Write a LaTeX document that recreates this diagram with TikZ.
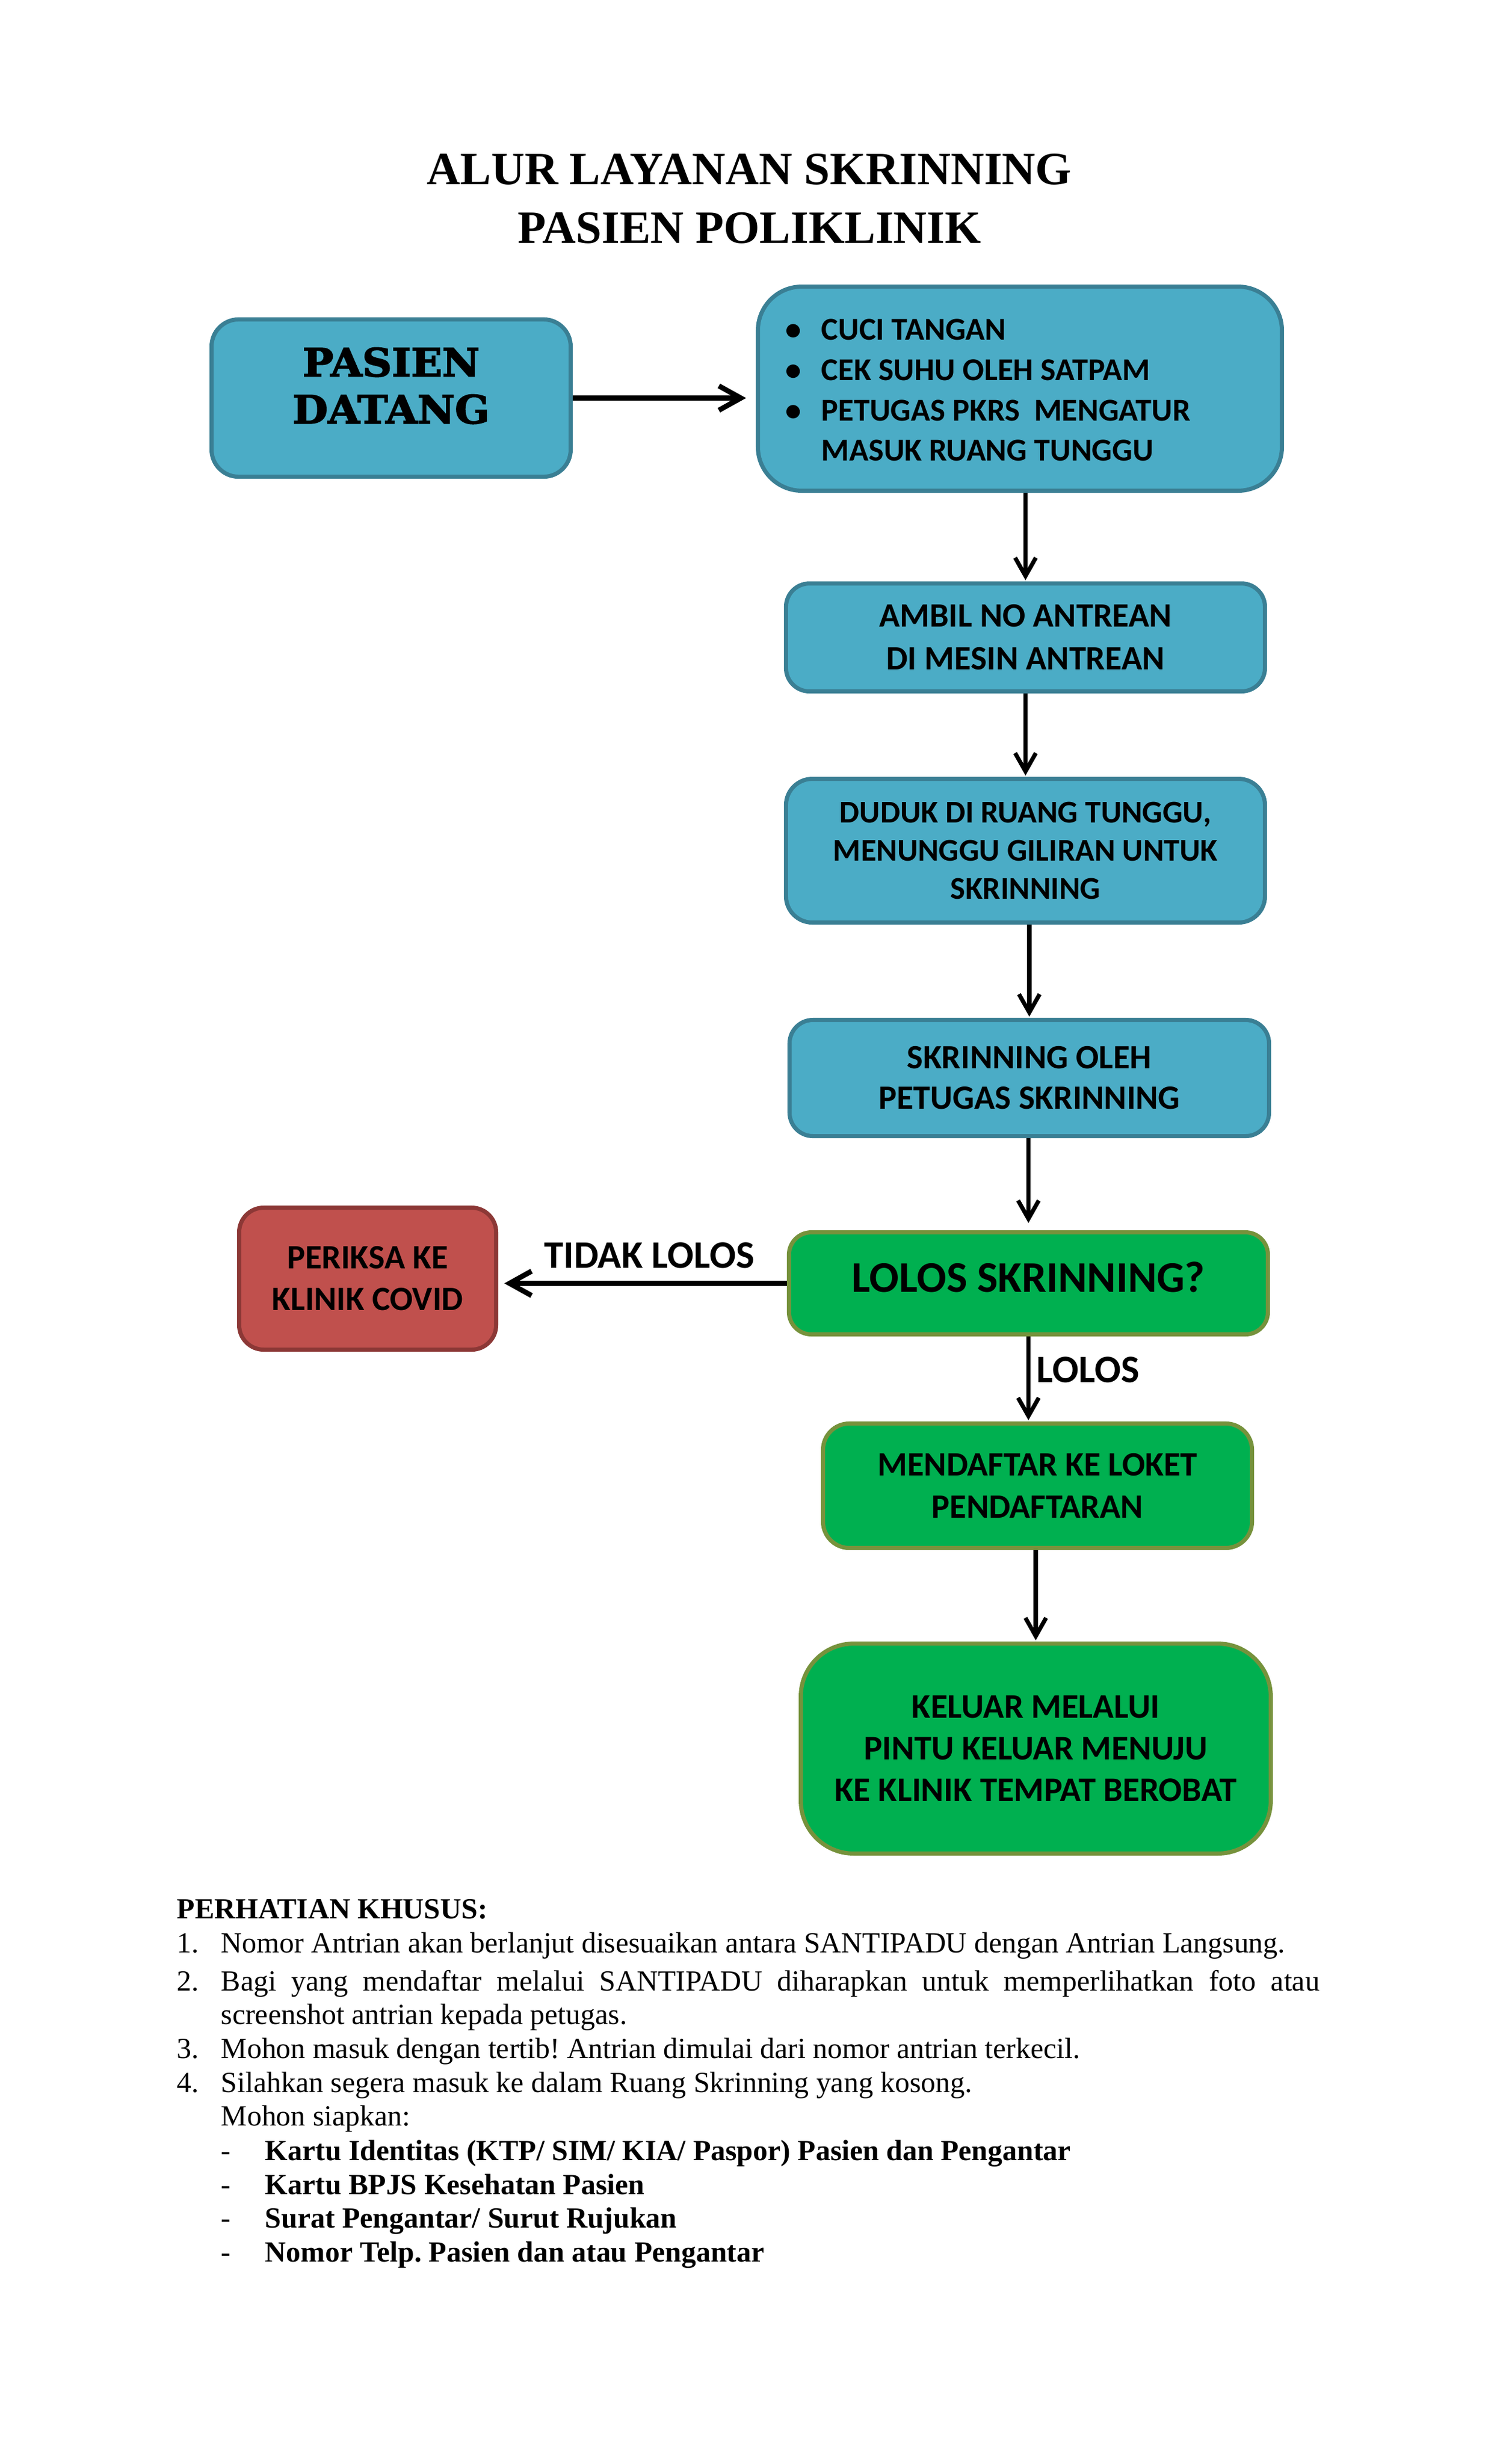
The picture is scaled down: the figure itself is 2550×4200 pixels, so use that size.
\documentclass[tikz,border=0pt]{standalone}
\usepackage{fontspec}
\setmainfont{Liberation Serif}
\newfontfamily\calib{Carlito}
\newfontfamily\heavyserif{DejaVu Serif Bold}[FakeBold=2.5, FakeStretch=1.05]
\usetikzlibrary{arrows.meta}
\definecolor{bfill}{HTML}{4BACC6}
\definecolor{bline}{HTML}{3A7F94}
\definecolor{gfill}{HTML}{00B050}
\definecolor{gline}{HTML}{76923C}
\definecolor{rfill}{HTML}{C0504D}
\definecolor{rline}{HTML}{8C3836}
\frenchspacing
\begin{document}
\begin{tikzpicture}[x=0.24088pt,y=-0.24088pt,
  box/.style={rectangle, inner sep=0pt, line width=1.7pt, align=center, text=black},
  bluebox/.style={box, fill=bfill, draw=bline},
  greenbox/.style={box, fill=gfill, draw=gline},
  redbox/.style={box, fill=rfill, draw=rline},
  arr/.style={line width=1.7pt, -{Straight Barb[length=7.5pt,width=8.5pt]}, shorten >=0.5pt},
  harr/.style={line width=2.1pt, -{Straight Barb[length=9pt,width=10pt]}},
  lbl/.style={inner sep=0pt, anchor=base west, font=\calib\bfseries\fontsize{16}{19}\selectfont},
  bul/.style={inner sep=0pt, font=\calib\bfseries\fontsize{13.1}{15}\selectfont},
  ttl/.style={inner sep=0pt, anchor=base, font=\bfseries\fontsize{19}{24}\selectfont},
  body/.style={inner sep=0pt, anchor=base west, font=\fontsize{12}{13.8}\selectfont},
  bodyb/.style={body, font=\bfseries\fontsize{12}{13.8}\selectfont}
]
\fill[white] (0,0) rectangle (2550,4200);
\useasboundingbox (0,0) rectangle (2550,4200);

% title
\node[ttl] (title1) at (1277,314) {ALUR LAYANAN SKRINNING};
\node[ttl] (title2) at (1277,414) {PASIEN POLIKLINIK};

% boxes
\node[bluebox, minimum width=147.4pt, minimum height=64.6pt, rounded corners=11.1pt] (b1) at (666.5,678.5) {};
\node[inner sep=0pt, align=center, font=\heavyserif\fontsize{16}{19.3}\selectfont] (t1) at (666.5,657.5) {PASIEN\\DATANG};

\node[bluebox, minimum width=215.1pt, minimum height=83.8pt, rounded corners=18pt] (b2) at (1738,662.5) {};
\node[bul, anchor=base] (u1) at (1352,579) {•};
\node[bul, anchor=base west] (v1) at (1399,579) {CUCI TANGAN};
\node[bul, anchor=base] (u2) at (1352,648) {•};
\node[bul, anchor=base west] (v2) at (1399,648) {CEK SUHU OLEH SATPAM};
\node[bul, anchor=base] (u3) at (1352,717) {•};
\node[bul, anchor=base west] (v3) at (1399,717) {PETUGAS PKRS\ \ MENGATUR};
\node[bul, anchor=base west] (v4) at (1399,785) {MASUK RUANG TUNGGU};

\node[bluebox, minimum width=196.6pt, minimum height=44.3pt, rounded corners=9.6pt,
      font=\calib\bfseries\fontsize{14}{17.6}\selectfont] (b3) at (1747.5,1086.5)
      {AMBIL NO ANTREAN\\DI MESIN ANTREAN};

\node[bluebox, minimum width=196.6pt, minimum height=59pt, rounded corners=10.8pt,
      font=\calib\bfseries\fontsize{13}{15.7}\selectfont] (b4) at (1747.5,1450)
      {DUDUK DI RUANG TUNGGU,\\MENUNGGU GILIRAN UNTUK\\SKRINNING};

\node[bluebox, minimum width=196.8pt, minimum height=47.7pt, rounded corners=9.6pt,
      font=\calib\bfseries\fontsize{14}{16.6}\selectfont] (b5) at (1754,1837.5)
      {SKRINNING OLEH\\PETUGAS SKRINNING};

\node[greenbox, minimum width=196.6pt, minimum height=41.9pt, rounded corners=9.2pt] (b6) at (1752.5,2187.5) {};
\node[inner sep=0pt, font=\calib\bfseries\fontsize{18}{21}\selectfont] (t6) at (1752.5,2176.5) {LOLOS SKRINNING?};

\node[redbox, minimum width=105.5pt, minimum height=58.3pt, rounded corners=10.1pt,
      font=\calib\bfseries\fontsize{14}{17.1}\selectfont] (red) at (626.5,2179.5)
      {PERIKSA KE\\KLINIK COVID};

\node[greenbox, minimum width=176.1pt, minimum height=51.1pt, rounded corners=10.8pt,
      font=\calib\bfseries\fontsize{14}{17.3}\selectfont] (b7) at (1768,2532.5)
      {MENDAFTAR KE LOKET\\PENDAFTARAN};

\node[greenbox, minimum width=192.9pt, minimum height=86.2pt, rounded corners=21.7pt,
      font=\calib\bfseries\fontsize{14.2}{17.1}\selectfont] (b8) at (1765,2980.5)
      {KELUAR MELALUI\\PINTU KELUAR MENUJU\\KE KLINIK TEMPAT BEROBAT};

% connectors
\draw[harr, shorten >=4pt] (b1.east) -- (b1.east -| b2.west);
\draw[arr] (b3.north |- b2.south) -- (b3.north);
\draw[arr] (b3.south) -- (b4.north);
\draw[arr] (b5.north |- b4.south) -- (b5.north);
\draw[arr, shorten >=3pt] (b6.north |- b5.south) -- (b6.north);
\draw[harr, shorten >=2.5pt] (b6.west) -- (b6.west -| red.east);
\draw[arr] (b6.south) -- (b6.south |- b7.north);
\draw[arr] (b8.north |- b7.south) -- (b8.north);

\node[lbl] (l1) at (927,2161) {TIDAK LOLOS};
\node[lbl] (l2) at (1766,2356) {LOLOS};

% notes
\node[bodyb] (n0) at (301,3270) {PERHATIAN KHUSUS:};
\node[body] (n1a) at (301,3328) {1.};
\node[body] (n1) at (376,3328) {Nomor Antrian akan berlanjut disesuaikan antara SANTIPADU dengan Antrian Langsung.};
\node[body] (n2a) at (301,3393) {2.};
\node[body] (n2) at (376,3393) {\hbox to 450.9pt{Bagi yang mendaftar melalui SANTIPADU diharapkan untuk memperlihatkan foto atau}};
\node[body] (n2b) at (376,3450) {screenshot antrian kepada petugas.};
\node[body] (n3a) at (301,3508) {3.};
\node[body] (n3) at (376,3508) {Mohon masuk dengan tertib! Antrian dimulai dari nomor antrian terkecil.};
\node[body] (n4a) at (301,3566) {4.};
\node[body] (n4) at (376,3566) {Silahkan segera masuk ke dalam Ruang Skrinning yang kosong.};
\node[body] (n4b) at (376,3623) {Mohon siapkan:};
\node[body] (d1a) at (376,3682) {-};
\node[bodyb] (d1) at (451,3682) {Kartu Identitas (KTP/ SIM/ KIA/ Paspor) Pasien dan Pengantar};
\node[body] (d2a) at (376,3740) {-};
\node[bodyb] (d2) at (451,3740) {Kartu BPJS Kesehatan Pasien};
\node[body] (d3a) at (376,3797) {-};
\node[bodyb] (d3) at (451,3797) {Surat Pengantar/ Surut Rujukan};
\node[body] (d4a) at (376,3855) {-};
\node[bodyb] (d4) at (451,3855) {Nomor Telp. Pasien dan atau Pengantar};
\end{tikzpicture}
\end{document}
